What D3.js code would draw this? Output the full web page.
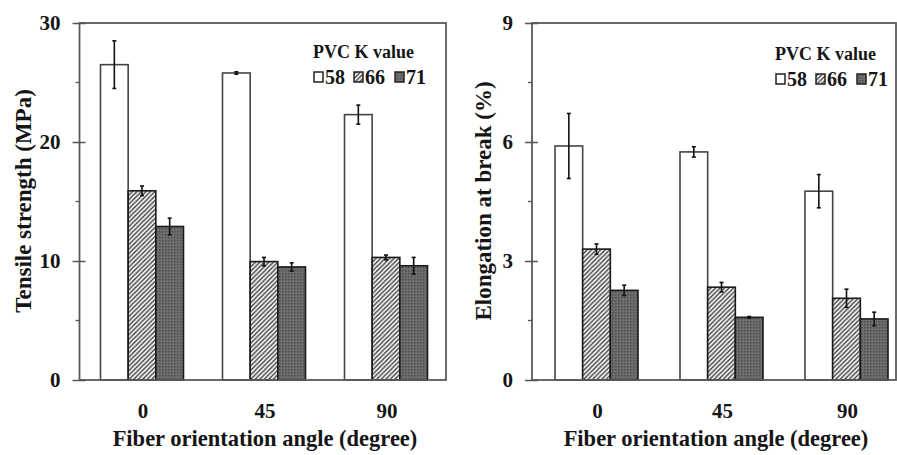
<!DOCTYPE html>
<meta charset="utf-8">
<script src="https://cdn.jsdelivr.net/npm/d3@7/dist/d3.min.js"></script>
<style>
body { margin: 0; background: #fff; }
text { font-family: "Liberation Serif", serif; font-weight: bold; fill: #151515; }
</style>
<body>
<script>

var angles = ["0", "45", "90"];
var kValues = ["58", "66", "71"];

// tensile strength (MPa), one array per K value, ordered by angle
var tensile58 = [26.5, 25.8, 22.3];
var tensile58Err = [2.0, 0.1, 0.8];
var tensile66 = [15.9, 9.95, 10.3];
var tensile66Err = [0.4, 0.35, 0.2];
var tensile71 = [12.9, 9.5, 9.6];
var tensile71Err = [0.7, 0.35, 0.7];

// elongation at break (%)
var elong58 = [5.9, 5.75, 4.76];
var elong58Err = [0.82, 0.13, 0.42];
var elong66 = [3.3, 2.34, 2.06];
var elong66Err = [0.13, 0.12, 0.23];
var elong71 = [2.26, 1.58, 1.54];
var elong71Err = [0.13, 0.02, 0.17];

var tensileTicks = [0, 10, 20, 30];
var elongTicks = [0, 3, 6, 9];

var width = 897, height = 455;

var svg = d3.select("body").append("svg")
    .attr("width", width)
    .attr("height", height);

var defs = svg.append("defs");

// diagonal hatch for K 66
var hatch = defs.append("pattern")
    .attr("id", "hatch")
    .attr("patternUnits", "userSpaceOnUse")
    .attr("width", 4.5).attr("height", 4.5);
hatch.append("rect").attr("width", 4.5).attr("height", 4.5).attr("fill", "#f4f4f4");
hatch.append("path")
    .attr("d", "M0,4.5 L4.5,0 M-1,1 L1,-1 M3.5,5.5 L5.5,3.5")
    .attr("stroke", "#3a3a3a").attr("stroke-width", 1.3);

// dark dotted fill for K 71
var dots = defs.append("pattern")
    .attr("id", "dots")
    .attr("patternUnits", "userSpaceOnUse")
    .attr("width", 3).attr("height", 3);
dots.append("rect").attr("width", 3).attr("height", 3).attr("fill", "#6e6e6e");
dots.append("rect").attr("width", 1.5).attr("height", 1.5).attr("fill", "#4e4e4e");

var fills = ["#fff", "url(#hatch)", "url(#dots)"];

function drawPanel(opt) {
  var g = svg.append("g");

  var y = d3.scaleLinear().domain([0, opt.max]).range([380, 23]);
  var x = d3.scalePoint().domain(angles).range(opt.bandRange).padding(0.5);
  var groupW = 83;
  var xs = d3.scaleBand().domain(kValues).range([-groupW / 2, groupW / 2]);

  var series = [opt.s58, opt.s66, opt.s71];
  var errs = [opt.e58, opt.e66, opt.e71];

  var rows = [];
  angles.forEach(function(a, i) {
    kValues.forEach(function(k, j) {
      rows.push({angle: a, k: k, j: j, v: series[j][i], e: errs[j][i]});
    });
  });

  // bars
  g.selectAll("rect.bar")
    .data(rows)
    .enter().append("rect")
    .attr("class", "bar")
    .attr("x", function(d) { return x(d.angle) + xs(d.k); })
    .attr("width", xs.bandwidth())
    .attr("y", function(d) { return y(d.v); })
    .attr("height", function(d) { return y(0) - y(d.v); })
    .attr("fill", function(d) { return fills[d.j]; })
    .attr("stroke", function(d) { return d.j === 0 ? "#444" : "#1a1a1a"; })
    .attr("stroke-width", 1.6);

  // error bars
  var eb = g.selectAll("g.err")
    .data(rows)
    .enter().append("g")
    .attr("class", "err")
    .attr("transform", function(d) { return "translate(" + (x(d.angle) + xs(d.k) + xs.bandwidth() / 2) + ",0)"; });
  eb.append("line")
    .attr("y1", function(d) { return y(d.v + d.e); })
    .attr("y2", function(d) { return y(d.v - d.e); })
    .attr("stroke", "#111").attr("stroke-width", 1.6);
  eb.append("line")
    .attr("x1", -2).attr("x2", 2)
    .attr("y1", function(d) { return y(d.v + d.e); })
    .attr("y2", function(d) { return y(d.v + d.e); })
    .attr("stroke", "#111").attr("stroke-width", 1.6);
  eb.append("line")
    .attr("x1", -2).attr("x2", 2)
    .attr("y1", function(d) { return y(d.v - d.e); })
    .attr("y2", function(d) { return y(d.v - d.e); })
    .attr("stroke", "#111").attr("stroke-width", 1.6);

  // frame
  g.append("rect")
    .attr("x", opt.left).attr("y", y(opt.max))
    .attr("width", opt.right - opt.left)
    .attr("height", y(0) - y(opt.max))
    .attr("fill", "none")
    .attr("stroke", "#5a5a5a").attr("stroke-width", 1.8);

  // y axis: major ticks crossing the axis, minor ticks outside
  var yAxis = g.append("g")
    .attr("transform", "translate(" + opt.left + ",0)")
    .call(d3.axisLeft(y).tickValues(opt.ticks).tickSize(7).tickPadding(12));
  yAxis.select(".domain").remove();
  yAxis.selectAll(".tick line").attr("x1", -7).attr("x2", 6).attr("stroke", "#555").attr("stroke-width", 1.5);
  yAxis.selectAll(".tick text")
    .attr("x", -19)
    .style("font-family", "'Liberation Serif', serif")
    .style("font-weight", "bold")
    .style("font-size", "21px")
    .attr("fill", "#151515");

  var minor = opt.ticks.slice(1).map(function(t, i) { return (t + opt.ticks[i]) / 2; });
  g.selectAll("line.minor")
    .data(minor)
    .enter().append("line")
    .attr("class", "minor")
    .attr("x1", opt.left - 4).attr("x2", opt.left)
    .attr("y1", function(d) { return y(d); })
    .attr("y2", function(d) { return y(d); })
    .attr("stroke", "#555").attr("stroke-width", 1.3);

  // x labels
  g.selectAll("text.xl")
    .data(angles)
    .enter().append("text")
    .attr("class", "xl")
    .attr("x", function(d) { return x(d) + 1; })
    .attr("y", 418)
    .attr("text-anchor", "middle")
    .style("font-size", "21px")
    .text(function(d) { return d; });

  g.append("text")
    .attr("x", opt.xTitleX)
    .attr("y", 446)
    .attr("text-anchor", "middle")
    .style("font-size", "22.5px")
    .text("Fiber orientation angle (degree)");

  g.append("text")
    .attr("transform", "translate(" + opt.titleX + ",201) rotate(-90)")
    .attr("text-anchor", "middle")
    .style("font-size", "23px")
    .text(opt.title);

  // legend
  var lg = g.append("g").attr("transform", "translate(" + opt.legendX + "," + opt.legendY + ")");
  lg.append("text")
    .attr("x", 0).attr("y", 0)
    .style("font-size", "18px")
    .text("PVC K value");
  var item = lg.selectAll("g.item")
    .data(kValues)
    .enter().append("g")
    .attr("class", "item")
    .attr("transform", function(d, i) { return "translate(" + [0, 40, 81][i] + ",26)"; });
  item.append("rect")
    .attr("x", 1).attr("y", -12)
    .attr("width", 9).attr("height", 10)
    .attr("fill", function(d, i) { return fills[i]; })
    .attr("stroke", "#222").attr("stroke-width", 1.5);
  item.append("text")
    .attr("x", 12).attr("y", 0)
    .style("font-size", "20px")
    .text(function(d) { return d; });
}

drawPanel({
  left: 79.5, right: 446, bandRange: [81, 447],
  max: 30, ticks: tensileTicks,
  s58: tensile58, s66: tensile66, s71: tensile71,
  e58: tensile58Err, e66: tensile66Err, e71: tensile71Err,
  title: "Tensile strength (MPa)", titleX: 31, xTitleX: 265,
  legendX: 313, legendY: 58
});

drawPanel({
  left: 532, right: 896, bandRange: [534, 909],
  max: 9, ticks: elongTicks,
  s58: elong58, s66: elong66, s71: elong71,
  e58: elong58Err, e66: elong66Err, e71: elong71Err,
  title: "Elongation at break (%)", titleX: 491, xTitleX: 716,
  legendX: 775, legendY: 60
});

</script>
</body>
